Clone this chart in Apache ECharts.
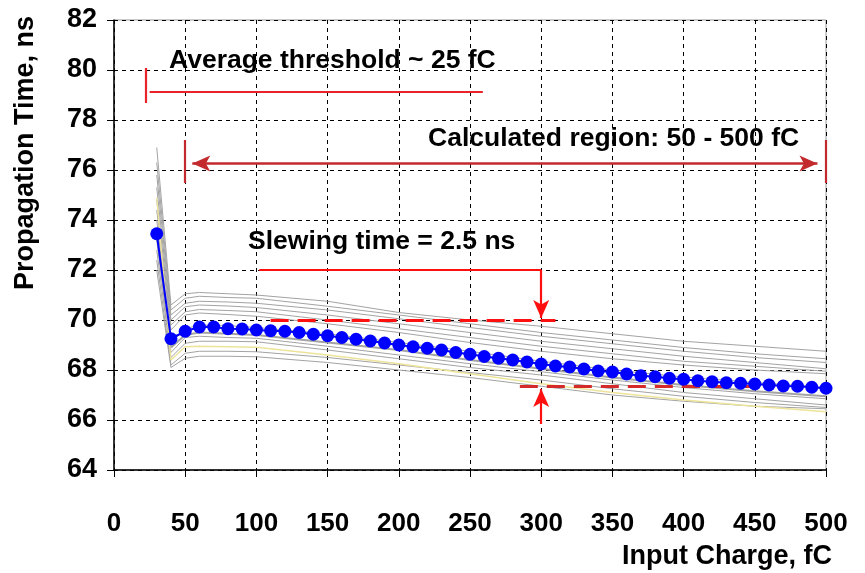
<!DOCTYPE html>
<html><head><meta charset="utf-8">
<script src="https://cdn.jsdelivr.net/npm/echarts@6/dist/echarts.min.js"></script>
<style>html,body{margin:0;padding:0;background:#fff}#c{width:865px;height:573px}</style>
</head><body><div id="c"></div>
<script>
// ---- data ----
const xTicks = [0,50,100,150,200,250,300,350,400,450,500];
const yTicks = [64,66,68,70,72,74,76,78,80,82];

const avgX = [30,40,50,60,70,80,90,100,110,120,130,140,150,160,170,180,190,200,210,220,230,240,250,260,270,280,290,300,310,320,330,340,350,360,370,380,390,400,410,420,430,440,450,460,470,480,490,500];
const avgY = [73.45,69.25,69.55,69.72,69.72,69.65,69.64,69.6,69.57,69.55,69.5,69.43,69.37,69.3,69.23,69.16,69.08,69.0,68.93,68.87,68.8,68.7,68.63,68.54,68.47,68.4,68.32,68.24,68.16,68.12,68.04,67.96,67.92,67.84,67.77,67.73,67.67,67.63,67.57,67.53,67.49,67.47,67.44,67.4,67.36,67.35,67.31,67.27];

const chX = [30,40,50,60,80,100,150,200,250,300,350,400,450,500];
const ch1  = [76.9,70.6,71.05,71.1,71.05,71.0,70.75,70.3,70.0,69.75,69.45,69.15,68.95,68.75];
const ch2  = [76.3,70.4,70.87,70.95,70.9,70.87,70.55,70.2,69.85,69.5,69.2,68.9,68.65,68.45];
const ch3  = [75.8,70.2,70.67,70.75,70.72,70.67,70.4,70.05,69.7,69.35,69.05,68.75,68.5,68.3];
const ch4  = [75.3,70.0,70.53,70.6,70.56,70.5,70.2,69.85,69.5,69.15,68.85,68.55,68.3,68.05];
const ch5  = [74.8,69.8,70.33,70.42,70.38,70.33,70.0,69.65,69.3,68.95,68.65,68.35,68.15,67.95];
const ch6  = [74.4,69.6,70.2,70.28,70.22,70.15,69.85,69.5,69.1,68.75,68.45,68.2,68.0,67.85];
const ch7  = [74.0,69.1,69.65,69.8,69.78,69.7,69.45,69.1,68.75,68.35,68.0,67.72,67.5,67.3];
const ch8  = [73.6,68.9,69.4,69.5,69.45,69.4,69.1,68.8,68.4,68.05,67.7,67.4,67.15,66.95];
const ch9  = [73.2,68.7,69.3,69.35,69.3,69.27,68.95,68.6,68.25,67.93,67.6,67.3,67.05,66.85];
const ch10 = [72.8,68.5,69.07,69.15,69.15,69.13,68.8,68.45,68.1,67.8,67.45,67.1,66.85,66.6];
const ch11 = [72.4,68.2,68.67,68.75,68.75,68.73,68.5,68.2,67.9,67.6,67.25,66.95,66.7,66.5];
const ch12 = [72.0,68.1,68.47,68.55,68.55,68.53,68.3,68.0,67.7,67.35,67.0,66.75,66.55,66.45];
const chYellow = [74.9,68.4,68.93,68.95,68.93,68.91,68.6,68.25,67.85,67.45,67.1,66.8,66.55,66.33];

const grayChannels = [ch1,ch2,ch3,ch4,ch5,ch6,ch7,ch8,ch9,ch10,ch11,ch12];

// ---- build ----
const FONT = "'Liberation Sans', Arial, sans-serif";
const pair = (xs, ys) => xs.map((x, i) => [x, ys[i]]);

const series = [];
grayChannels.forEach((ys, i) => {
  series.push({
    type: 'line', data: pair(chX, ys), symbol: 'none', silent: true,
    lineStyle: { color: '#a3a3a3', width: (i === 7 ? 2 : 1) }, z: 2
  });
});
series.push({
  type: 'line', data: pair(chX, chYellow), symbol: 'none', silent: true,
  lineStyle: { color: '#eee39a', width: 1.3 }, z: 2
});
series.push({
  type: 'line', data: pair(avgX, avgY), symbol: 'circle', symbolSize: 13,
  itemStyle: { color: '#0000ff' }, lineStyle: { color: '#0000ff', width: 2 }, z: 5
});

const thrC = '#e8242a', calcC = '#c32a2e', slewC = '#ff1010';
function ml(a, b, color, width, type, s0, s1) {
  return [
    { coord: a, symbol: s0 || 'none', lineStyle: { color, width, type: type || 'solid', cap: 'butt' } },
    { coord: b, symbol: s1 || 'none' }
  ];
}
series.push({
  type: 'line', data: [], z: 6, silent: true,
  markLine: {
    silent: true, animation: false, symbolSize: [12, 18],
    label: { show: false },
    emphasis: { disabled: true },
    data: [
      ml([22, 80.08], [22, 78.68], thrC, 2.2),
      ml([25, 79.12], [259, 79.12], thrC, 2.2),
      ml([50, 77.2], [50, 75.48], calcC, 2.2),
      ml([500, 77.2], [500, 75.48], calcC, 2.2),
      ml([55, 76.26], [494, 76.26], calcC, 2.5, 'solid', 'arrow', 'arrow'),
      ml([102, 72], [300, 72], slewC, 2.2),
      ml([300, 72], [300, 70.08], slewC, 2.2, 'solid', 'none', 'arrow'),
      ml([110, 70], [310, 70], slewC, 3, [18, 9]),
      ml([285, 67.36], [447, 67.36], '#d42a2a', 3, [18, 9]),
      ml([300, 65.84], [300, 67.24], slewC, 2.2, 'solid', 'none', 'arrow')
    ]
  }
});

const chart = echarts.init(document.getElementById('c'), null, { renderer: 'canvas' });
chart.setOption({
  animation: false,
  backgroundColor: '#ffffff',
  grid: { left: 114, right: 39, top: 20, bottom: 103, show: true, borderColor: '#9a9a9a', borderWidth: 1, backgroundColor: 'transparent' },
  xAxis: {
    type: 'value', min: xTicks[0], max: xTicks[xTicks.length - 1], interval: 50,
    axisLine: { show: true, onZero: false, lineStyle: { color: '#000', width: 1.5 } },
    axisTick: { show: true, length: 7, lineStyle: { color: '#000' } },
    axisLabel: { margin: 41, color: '#000', fontFamily: FONT, fontWeight: 'bold', fontSize: 26 },
    splitLine: { show: true, lineStyle: { color: '#000', type: [4, 4], width: 1 } }
  },
  yAxis: {
    type: 'value', min: yTicks[0], max: yTicks[yTicks.length - 1], interval: 2,
    axisLine: { show: true, onZero: false, lineStyle: { color: '#000', width: 1.5 } },
    axisTick: { show: true, length: 7, lineStyle: { color: '#000' } },
    axisLabel: { margin: 17, color: '#000', fontFamily: FONT, fontWeight: 'bold', fontSize: 27 },
    splitLine: { show: true, lineStyle: { color: '#000', type: [4, 4], width: 1 } }
  },
  series,
  graphic: [
    { type: 'text', left: 169, top: 47, z: 10, style: { text: 'Average threshold ~ 25 fC', font: 'bold 26.5px ' + FONT, fill: '#000' } },
    { type: 'text', left: 428, top: 125, z: 10, style: { text: 'Calculated region: 50 - 500 fC', font: 'bold 26.5px ' + FONT, fill: '#000' } },
    { type: 'text', left: 248, top: 228, z: 10, style: { text: 'Slewing time = 2.5 ns', font: 'bold 26.5px ' + FONT, fill: '#000' } },
    { type: 'text', right: 33, top: 543, z: 10, style: { text: 'Input Charge, fC', font: 'bold 27px ' + FONT, fill: '#000' } },
    { type: 'text', x: 26, y: 153, rotation: Math.PI / 2, z: 10, style: { text: 'Propagation Time, ns', font: 'bold 27px ' + FONT, fill: '#000', align: 'center', verticalAlign: 'middle' } }
  ]
});
</script>
</body></html>
